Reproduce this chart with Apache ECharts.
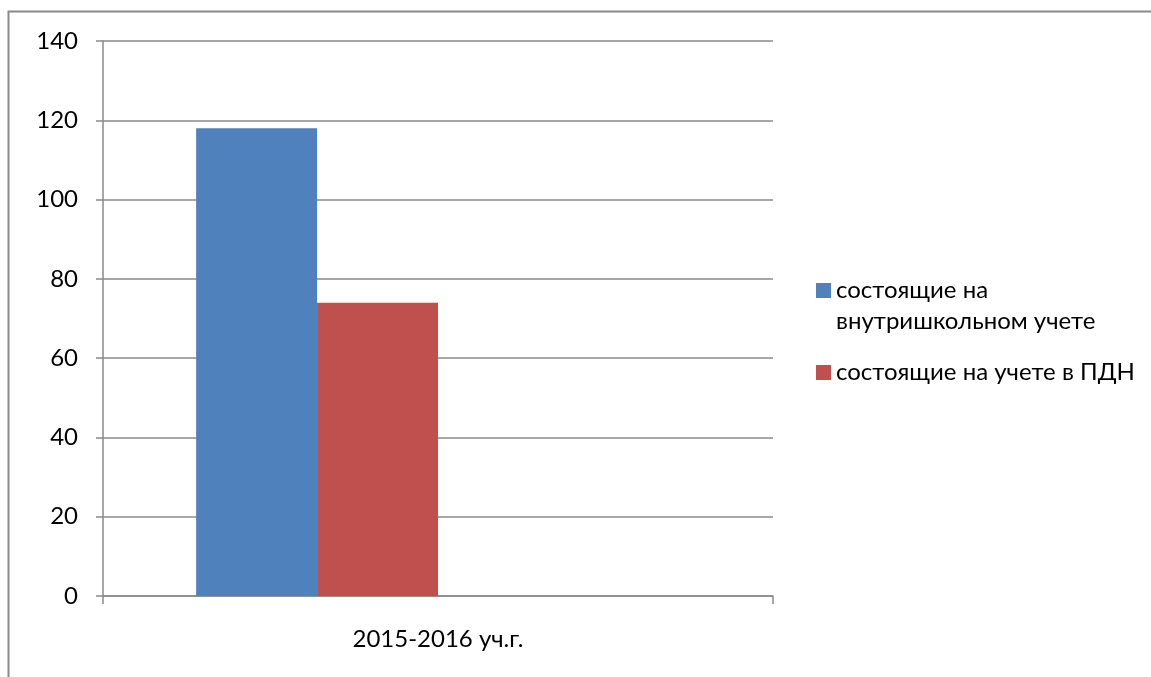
<!DOCTYPE html>
<html><head><meta charset="utf-8">
<script src="https://cdn.jsdelivr.net/npm/echarts@6/dist/echarts.min.js"></script>
<style>html,body{margin:0;padding:0;background:#fff}#c{width:1151px;height:677px}</style>
</head><body><div id="c"></div>
<script>
const categories = ['2015-2016 уч.г.'];
const seriesNames = ['состоящие на\nвнутришкольном учете', 'состоящие на учете в ПДН'];
const vnutri = [118];
const pdn = [74];
const empty3 = [null];
const empty4 = [null];
const yTicks = [0, 20, 40, 60, 80, 100, 120, 140];

const chart = echarts.init(document.getElementById('c'));
const font = 'Lato, "Liberation Sans", sans-serif';
chart.setOption({
  animation: false,
  backgroundColor: '#fff',
  graphic: [{
    type: 'polyline', silent: true,
    shape: { points: [[8.5, 700], [8.5, 11.5], [1200, 11.5]] },
    style: { stroke: '#8a8a8a', lineWidth: 2, fill: null }
  }],
  grid: { left: 103, right: 378, top: 41, bottom: 81, containLabel: false },
  legend: {
    orient: 'vertical', left: 811, top: 239, itemWidth: 15, itemHeight: 15, itemGap: 20,
    padding: 5,
    icon: 'rect',
    textStyle: { fontFamily: font, fontSize: 24, color: '#000', lineHeight: 31 },
    formatter: function (name) { return name === seriesNames[0] ? ' \n' + name : name; },
    data: [seriesNames[0], seriesNames[1]]
  },
  xAxis: {
    type: 'category', data: categories,
    axisLine: { lineStyle: { color: '#8a8a8a', width: 1.5 } },
    axisTick: { show: true, length: 8, lineStyle: { color: '#8a8a8a', width: 1.5 } },
    axisLabel: { fontFamily: font, fontSize: 24, color: '#000', margin: 31 }
  },
  yAxis: {
    type: 'value', min: yTicks[0], max: yTicks[yTicks.length - 1], interval: 20,
    axisLine: { show: true, lineStyle: { color: '#8a8a8a', width: 1.5 } },
    axisTick: { show: true, length: 7, lineStyle: { color: '#8a8a8a', width: 1.5 } },
    splitLine: { lineStyle: { color: '#8a8a8a', width: 1.5 } },
    axisLabel: { fontFamily: font, fontSize: 24, color: '#000', margin: 25 }
  },
  series: [
    { name: seriesNames[0], type: 'bar', data: vnutri, itemStyle: { color: '#4F81BD' }, barGap: '0%', barCategoryGap: '27.8%' },
    { name: seriesNames[1], type: 'bar', data: pdn, itemStyle: { color: '#C0504D' } },
    { name: 's3', type: 'bar', data: empty3, itemStyle: { color: '#9BBB59' } },
    { name: 's4', type: 'bar', data: empty4, itemStyle: { color: '#8064A2' } }
  ]
});
</script></body></html>
